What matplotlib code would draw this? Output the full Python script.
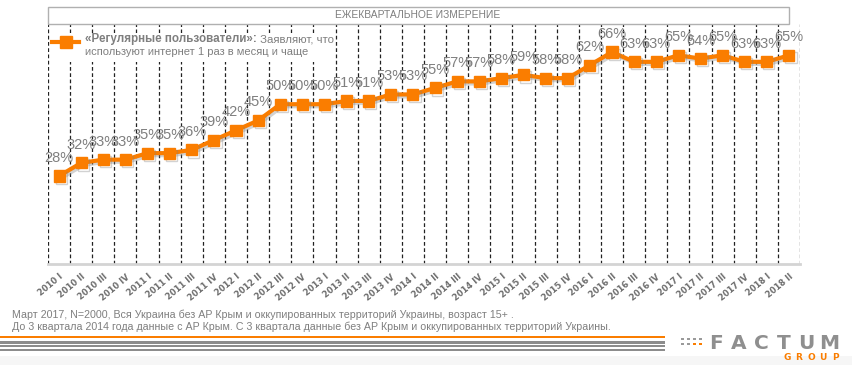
import numpy as np
import matplotlib
matplotlib.use("Agg")
from matplotlib import pyplot as plt
from matplotlib import patheffects as pe
from matplotlib.patches import Rectangle

# quarters and share of regular users (%)
years = ["2010"] * 4 + ["2011"] * 4 + ["2012"] * 4 + ["2013"] * 4 + \
        ["2014"] * 4 + ["2015"] * 4 + ["2016"] * 4 + ["2017"] * 4 + ["2018"] * 2
quarters = ["I", "II", "III", "IV"] * 8 + ["I", "II"]
tick_labels = [y + " " + q for y, q in zip(years, quarters)]
values = [28, 32, 33, 33, 35, 35, 36, 39, 42, 45, 50, 50, 50, 51, 51, 53, 53,
          55, 57, 57, 58, 59, 58, 58, 62, 66, 63, 63, 65, 64, 65, 63, 63, 65]

header = "ЕЖЕКВАРТАЛЬНОЕ ИЗМЕРЕНИЕ"
legend_bold = "«Регулярные пользователи»:"
legend_rest = " Заявляют, что"
legend_line2 = "используют интернет 1 раз в месяц и чаще"
notes = ["Март 2017, N=2000, Вся Украина без АР Крым и оккупированных территорий Украины, возраст 15+ .",
         "До 3 квартала 2014 года данные с АР Крым. С 3 квартала данные без АР Крым и оккупированных территорий Украины."]

orange = "#fa7d00"
gray_txt = "#7f7f7f"
font = "Liberation Sans"

W, H = 852, 365
fig = plt.figure(figsize=(W / 100, H / 100), dpi=100)

def fx(px):
    return px / W

def fy(py):
    return 1 - py / H

# plot area
ax = fig.add_axes([fx(48), fy(264), fx(800) - fx(48), fy(24) - fy(264)])
x = np.arange(len(values))
ax.plot(x, values, color=orange, lw=3, marker="s", ms=8, mec=orange, mfc=orange,
        zorder=3,
        path_effects=[pe.SimpleLineShadow(offset=(1.5, -1.5), shadow_color="gray", alpha=0.35),
                      pe.Normal()])
for xi, v in zip(x, values):
    ax.annotate(f"{v}%", (xi, v), xytext=(0, 13), textcoords="offset points",
                ha="center", va="center", fontsize=10.5, color=gray_txt,
                family=font, zorder=4)

ax.set_xlim(-0.5, len(values) - 0.5)
ax.set_ylim(1, 74.6)
ax.set_xticks(x)
ax.set_xticklabels(tick_labels, rotation=40, ha="right", rotation_mode="anchor",
                   fontsize=6, fontweight="bold", color="#6d6d6d")
ax.set_xticks(np.arange(len(values) + 1) - 0.5, minor=True)
ax.tick_params(axis="x", which="both", length=0, pad=6)
ax.set_yticks([])
ax.grid(axis="x", which="minor", color="#222222", lw=0.9, ls=(0, (3, 2)))
for s in ["left", "right", "top"]:
    ax.spines[s].set_visible(False)
ax.spines["bottom"].set_color("#d4d4d4")
ax.spines["bottom"].set_linewidth(2)

# header box
fig.patches.append(Rectangle((fx(48), fy(24)), fx(789) - fx(48), fy(7) - fy(24),
                             transform=fig.transFigure, fc="white", ec="#b0b0b0", lw=1))
fig.text(fx(418), fy(15.5), header, ha="center", va="center", fontsize=7.4,
         color=gray_txt, family=font)

# legend drawn by hand on a white box
fig.patches.append(Rectangle((fx(50), fy(62)), fx(335) - fx(50), fy(33) - fy(62),
                             transform=fig.transFigure, fc="white", ec="none", zorder=2))
fig.lines.append(plt.Line2D([fx(52), fx(79)], [fy(42), fy(42)], transform=fig.transFigure,
                            color=orange, lw=3, zorder=3))
fig.lines.append(plt.Line2D([fx(66)], [fy(42)], transform=fig.transFigure, marker="s",
                            ms=8, color=orange, zorder=3))
t_bold = fig.text(fx(85), fy(39), legend_bold, ha="left", va="center", fontsize=8.4,
                  fontweight="bold", color=gray_txt, family=font, zorder=4)
fig.canvas.draw()
bb = t_bold.get_window_extent(fig.canvas.get_renderer())
fig.text(bb.x1 / W, fy(39), legend_rest, ha="left", va="center", fontsize=8.2,
         color=gray_txt, family=font, zorder=4)
fig.text(fx(85), fy(52), legend_line2, ha="left", va="center", fontsize=8,
         color=gray_txt, family=font, zorder=4)

# footnotes
fig.text(fx(12), fy(315), notes[0], ha="left", va="center", fontsize=7.7,
         color=gray_txt, family=font)
fig.text(fx(12), fy(327), notes[1], ha="left", va="center", fontsize=7.7,
         color=gray_txt, family=font)

# bottom stripes
fig.patches.append(Rectangle((0, fy(338)), fx(665), fy(336) - fy(338),
                             transform=fig.transFigure, fc=orange, ec="none"))
for top, bot in [(341, 343.5), (345, 347), (348.5, 350.5)]:
    fig.patches.append(Rectangle((0, fy(bot)), fx(665), fy(top) - fy(bot),
                                 transform=fig.transFigure, fc="#8c8c8c", ec="none"))
fig.patches.append(Rectangle((0, 0), 1, fy(356), transform=fig.transFigure,
                             fc="#f6f6f6", ec="none", zorder=-1))

# logo
for i in range(4):
    for j in range(2):
        c = orange if (i >= 2 and j == 1) else "#9a9a9a"
        fig.patches.append(Rectangle((fx(681 + i * 6), fy(340 + j * 5)), fx(2.5), fy(0) - fy(2.5),
                                     transform=fig.transFigure, fc=c, ec="none"))
for k, ch in enumerate("FACTUM"):
    fig.text(fx(716 + k * 22.7), fy(343.5), ch, ha="center", va="center", fontsize=14.5,
             color="#8f8f8f", fontweight="bold", family="DejaVu Sans")
for k, ch in enumerate("GROUP"):
    fig.text(fx(787 + k * 12), fy(358), ch, ha="center", va="center", fontsize=6.5,
             color=orange, fontweight="bold", family="DejaVu Sans")

fig.savefig("out.png", dpi=100)
